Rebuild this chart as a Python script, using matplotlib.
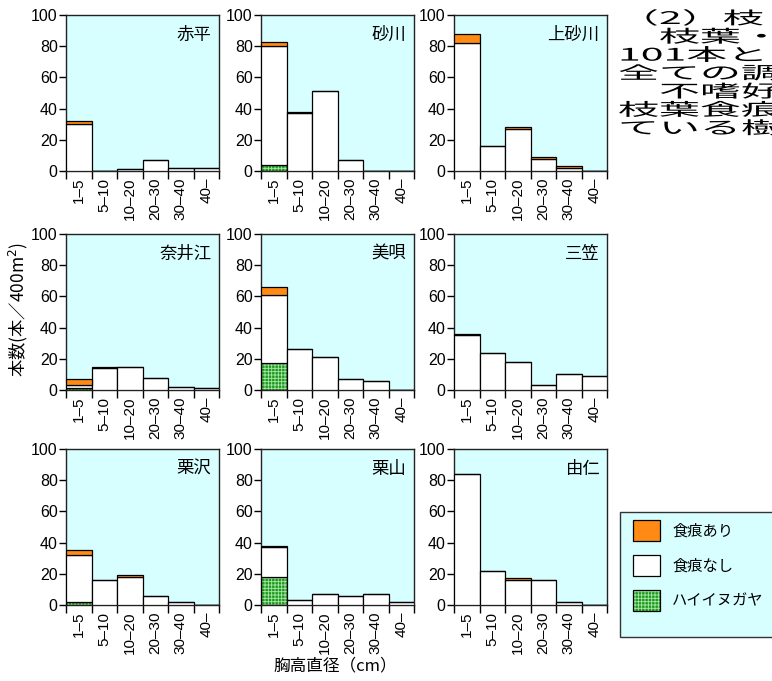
import numpy as np
import matplotlib
matplotlib.use("Agg")
import matplotlib.pyplot as plt
from matplotlib.patches import Patch, Rectangle
from matplotlib.legend_handler import HandlerTuple
from matplotlib.patheffects import AbstractPathEffect
from matplotlib.transforms import Affine2D

plt.rcParams['font.family'] = ['Noto Sans CJK JP', 'DejaVu Sans']
plt.rcParams['hatch.linewidth'] = 0.6

# Diameter classes (cm) and survey sites
classes = ['1–5', '5–10', '10–20', '20–30', '30–40', '40–']
sites = ['赤平', '砂川', '上砂川', '奈井江', '美唄', '三笠', '栗沢', '栗山', '由仁']

# Trees per 400 m2: Cephalotaxus (ハイイヌガヤ)
haiinugaya = {
    '赤平':   [0, 0, 0, 0, 0, 0],
    '砂川':   [4, 0, 0, 0, 0, 0],
    '上砂川': [0, 0, 0, 0, 0, 0],
    '奈井江': [1, 0, 0, 0, 0, 0],
    '美唄':   [17, 0, 0, 0, 0, 0],
    '三笠':   [0, 0, 0, 0, 0, 0],
    '栗沢':   [2, 0, 0, 0, 0, 0],
    '栗山':   [18, 0, 0, 0, 0, 0],
    '由仁':   [0, 0, 0, 0, 0, 0],
}
# Trees without browsing marks
no_marks = {
    '赤平':   [30, 0, 1, 7, 2, 2],
    '砂川':   [76, 37, 51, 7, 0, 0],
    '上砂川': [82, 16, 27, 8, 2, 0],
    '奈井江': [2, 14, 15, 8, 2, 1],
    '美唄':   [44, 26, 21, 7, 6, 0],
    '三笠':   [35, 24, 18, 3, 10, 9],
    '栗沢':   [30, 16, 18, 6, 2, 0],
    '栗山':   [19, 3, 7, 6, 7, 2],
    '由仁':   [84, 22, 16, 16, 2, 0],
}
# Trees with browsing marks
with_marks = {
    '赤平':   [2, 0, 0, 0, 0, 0],
    '砂川':   [3, 1, 0, 0, 0, 0],
    '上砂川': [6, 0, 1, 1, 1, 0],
    '奈井江': [4, 1, 0, 0, 0, 0],
    '美唄':   [5, 0, 0, 0, 0, 0],
    '三笠':   [1, 0, 0, 0, 0, 0],
    '栗沢':   [3, 0, 1, 0, 0, 0],
    '栗山':   [1, 0, 0, 0, 0, 0],
    '由仁':   [0, 0, 1, 0, 0, 0],
}

side_text = ['（2）枝', '　枝葉・', '101本と', '全ての調', '　不嗜好', '枝葉食痕', 'ている樹']

BG = '#D7FFFF'
ORANGE = '#FF8A14'
GREEN = '#1F9A1F'
HATCH = '#A8E8A8'
EDGE_LW = 0.9
num_font = ['Liberation Sans', 'DejaVu Sans']


class Widen(AbstractPathEffect):
    """Draw glyph outlines stretched horizontally about a fixed x (pixels)."""

    def __init__(self, sx, x0):
        super().__init__()
        self.sx = sx
        self.x0 = x0

    def draw_path(self, renderer, gc, tpath, affine, rgbFace=None):
        t = affine + Affine2D().translate(-self.x0, 0).scale(self.sx, 1) \
            .translate(self.x0, 0)
        renderer.draw_path(gc, tpath, t, rgbFace)


W, H = 772, 681
fig = plt.figure(figsize=(W / 100, H / 100), dpi=100)

col_left = [66, 261, 454]
row_top = [15, 234, 449]
aw, ah = 153, 156

x = np.arange(len(classes))
for i, site in enumerate(sites):
    r, c = divmod(i, 3)
    l, t = col_left[c], row_top[r]
    ax = fig.add_axes([l / W, 1 - (t + ah) / H, aw / W, ah / H])
    ax.set_facecolor(BG)
    g = np.array(haiinugaya[site], float)
    n = np.array(no_marks[site], float)
    m = np.array(with_marks[site], float)
    ax.bar(x, g, width=1, align='edge', facecolor=GREEN, edgecolor=HATCH,
           hatch='+++++', linewidth=0, zorder=2)
    ax.bar(x, g, width=1, align='edge', fill=False, edgecolor='black',
           linewidth=EDGE_LW, zorder=3)
    ax.bar(x, n, bottom=g, width=1, align='edge', facecolor='white',
           edgecolor='black', linewidth=EDGE_LW, zorder=3)
    ax.bar(x, m, bottom=g + n, width=1, align='edge', facecolor=ORANGE,
           edgecolor='black', linewidth=EDGE_LW, zorder=3)

    ax.set_xlim(0, len(classes))
    ax.set_ylim(0, 100)
    ax.set_yticks(np.arange(0, 101, 20))
    ax.set_xticks(np.arange(len(classes) + 1))
    ax.set_xticklabels([])
    ax.set_xticks(x + 0.5, minor=True)
    ax.set_xticklabels(classes, minor=True, rotation=90, fontsize=11,
                       family=num_font)
    ax.tick_params(axis='x', which='major', direction='out', length=6,
                   width=1)
    ax.tick_params(axis='x', which='minor', length=0, pad=5)
    ax.tick_params(axis='y', direction='out', length=5, width=1,
                   labelsize=11.5, pad=1)
    for lab in ax.get_yticklabels():
        lab.set_family(num_font)
    for sp in ax.spines.values():
        sp.set_linewidth(1.0)
        sp.set_color('#222222')
    ax.text(0.95, 0.93, site, transform=ax.transAxes, ha='right', va='top',
            fontsize=12.5)

fig.text(18 / W, 1 - 310 / H, '本数(本／400m$^2$)', rotation=90,
         ha='center', va='center', fontsize=12.5)
fig.text(335 / W, 1 - 666 / H, '胸高直径（cm）', ha='center', va='center',
         fontsize=12)

# Body text beside the charts (wide lettering, runs past the right edge)
text_x = 618
for k, line in enumerate(side_text):
    fig.text(text_x / W, 1 - (19 + 18.3 * k) / H, line, ha='left',
             va='center', fontsize=12.5,
             path_effects=[Widen(2.36, text_x)])

# Legend box (its right side runs off the figure)
fig.patches.append(Rectangle((620 / W, 1 - 637 / H), 180 / W, 125 / H,
                             transform=fig.transFigure, facecolor=BG,
                             edgecolor='#333333', linewidth=1.0, zorder=0))
handles = [
    Patch(facecolor=ORANGE, edgecolor='black', linewidth=EDGE_LW),
    Patch(facecolor='white', edgecolor='black', linewidth=EDGE_LW),
    (Patch(facecolor=GREEN, edgecolor=HATCH, hatch='+++++', linewidth=0),
     Patch(fill=False, edgecolor='black', linewidth=EDGE_LW)),
]
labels = ['食痕あり', '食痕なし', 'ハイイヌガヤ']
leg = fig.legend(handles, labels, loc='upper left',
                 bbox_to_anchor=(633 / W, 1 - 520 / H),
                 fontsize=11, handlelength=1.77, handleheight=1.77,
                 handletextpad=0.8, labelspacing=0.9, borderpad=0,
                 borderaxespad=0, frameon=False,
                 handler_map={tuple: HandlerTuple(ndivide=1)})

fig.savefig('out.png', dpi=100)
